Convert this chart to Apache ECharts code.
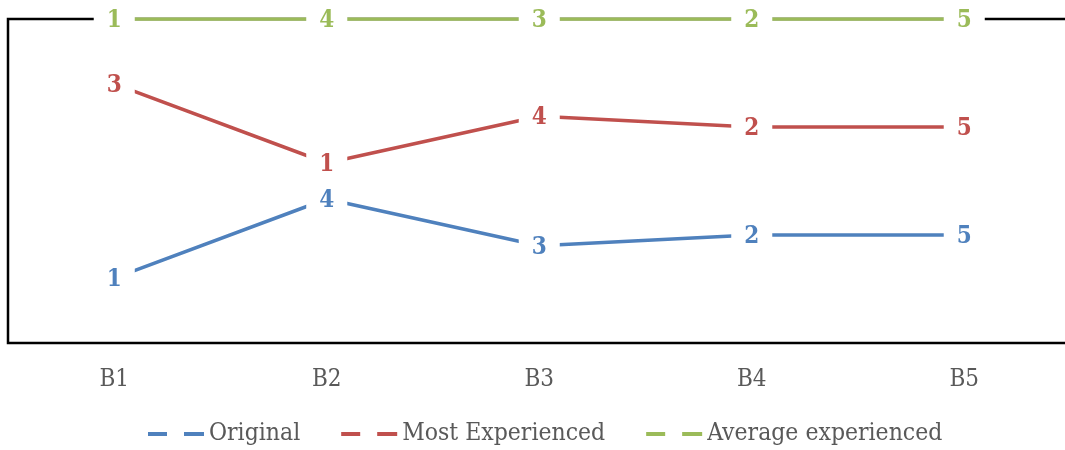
<!DOCTYPE html>
<html>
<head>
<meta charset="utf-8">
<title>Rankings by block</title>
<script src="https://cdn.jsdelivr.net/npm/echarts@6/dist/echarts.min.js"></script>
<style>
  html, body { margin: 0; padding: 0; background: #fff; }
  #chart { width: 1065px; height: 450px; }
</style>
</head>
<body>
<div id="chart"></div>
<script>
// Blocks along the horizontal axis
const categories = ['B1', 'B2', 'B3', 'B4', 'B5'];

// Rank values per group (shown as labels, stacked as 100% shares)
const original = [1, 4, 3, 2, 5];
const mostExperienced = [3, 1, 4, 2, 5];
const averageExperienced = [1, 4, 3, 2, 5];

const seriesNames = ['Original', 'Most Experienced', 'Average experienced'];
const seriesColors = ['#4F81BD', '#C0504D', '#9BBB59'];

const groups = [original, mostExperienced, averageExperienced];

// 100% stacked: each value as a percentage of the block total
const totals = categories.map((_, i) => groups.reduce((s, g) => s + g[i], 0));
const shares = groups.map(g => g.map((v, i) => v / totals[i] * 100));

const FONT = "'DejaVu Serif Condensed', 'Liberation Serif', serif";

const chart = echarts.init(document.getElementById('chart'), null, { renderer: 'canvas' });

chart.setOption({
  animation: false,
  backgroundColor: '#fff',
  grid: {
    left: 8,
    top: 19,
    width: 1062.5,
    height: 324,
    show: true,
    borderColor: '#000',
    borderWidth: 2.5,
    backgroundColor: 'transparent',
    outerBoundsMode: 'none'
  },
  xAxis: {
    type: 'category',
    data: categories,
    boundaryGap: true,
    axisLine: { show: false },
    axisTick: { show: false },
    splitLine: { show: false },
    axisLabel: {
      color: '#595959',
      fontFamily: FONT,
      fontSize: 24,
      lineHeight: 24,
      margin: 25
    }
  },
  yAxis: {
    type: 'value',
    min: 0,
    max: 100,
    show: false,
    splitLine: { show: false }
  },
  legend: {
    left: 148,
    top: 420,
    padding: 0,
    itemGap: 41,
    itemWidth: 56,
    itemHeight: 4,
    textStyle: {
      color: '#595959',
      fontFamily: FONT,
      fontSize: 24.5,
      lineHeight: 28
    },
    data: seriesNames.map((name, i) => ({
      name,
      icon: 'path://M0,0H19V4H0Z M36,0H56V4H36Z',
      itemStyle: { color: seriesColors[i] }
    }))
  },
  series: groups.map((g, si) => ({
    name: seriesNames[si],
    type: 'line',
    stack: 'total',
    data: shares[si],
    symbol: 'circle',
    symbolSize: 0,
    showSymbol: true,
    color: seriesColors[si],
    lineStyle: { width: 3.5, color: seriesColors[si] },
    itemStyle: { color: seriesColors[si] },
    emphasis: { disabled: true },
    label: {
      show: true,
      position: 'inside',
      offset: [0, 2],
      color: seriesColors[si],
      fontFamily: FONT,
      fontWeight: 'bold',
      fontSize: 24,
      backgroundColor: '#fff',
      padding: [4, 13, 4, 13],
      formatter: p => String(g[p.dataIndex])
    }
  }))
});
</script>
</body>
</html>
